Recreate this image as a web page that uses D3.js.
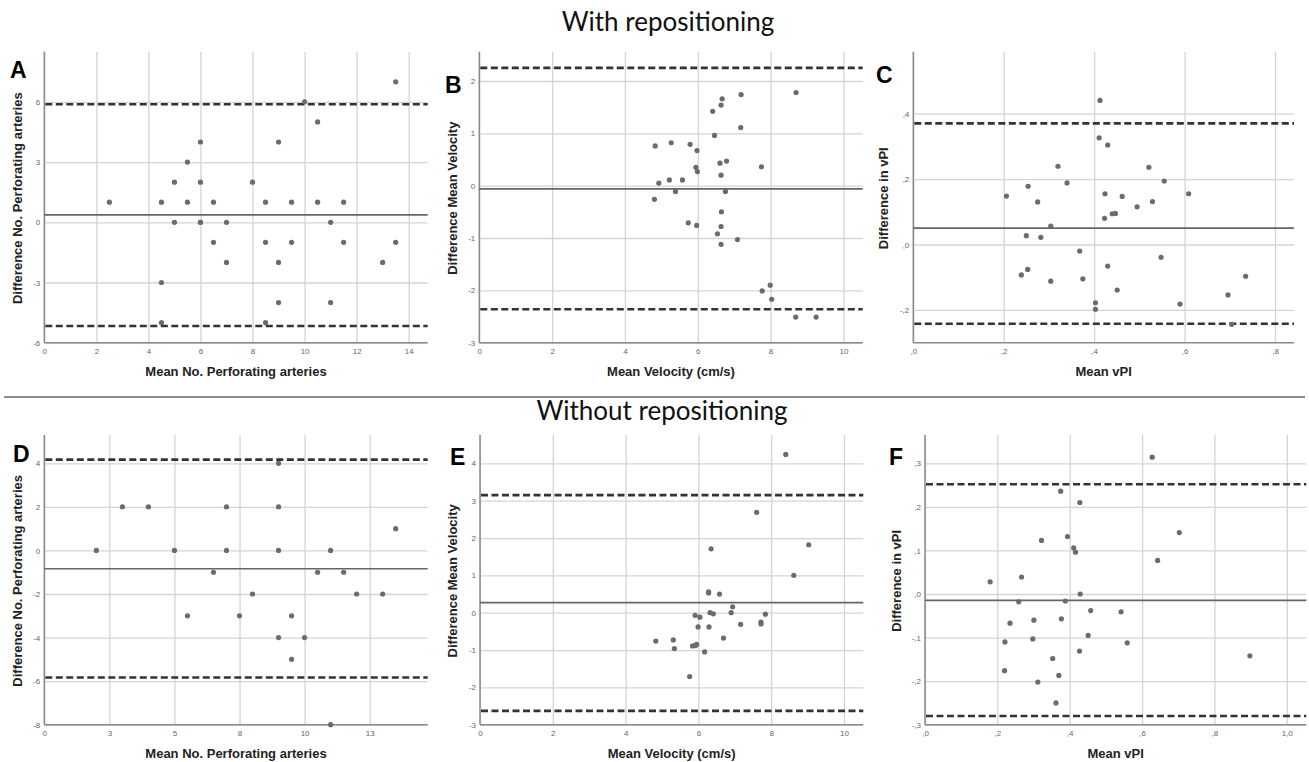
<!DOCTYPE html>
<html>
<head>
<meta charset="utf-8">
<script src="https://cdn.jsdelivr.net/npm/d3@7"></script>
<style>
  html, body { margin: 0; padding: 0; background: #fff; }
  svg { display: block; }
</style>
</head>
<body>
<svg id="chart" width="1309" height="762"></svg>
<script>
// ---------- DATA ----------
const titleTop = "With repositioning";
const titleBottom = "Without repositioning";

// Panel A: With repositioning, No. perforating arteries
const aMean = [2.5,4.5,4.5,4.5,5,5,5.5,5.5,6,6,6,6,6.5,6.5,7,7,8,8.5,8.5,8.5,9,9,9,9.5,9.5,10,10.5,10.5,11,11,11.5,11.5,13,13.5,13.5];
const aDiff = [1,1,-3,-5,2,0,3,1,4,2,0,0,1,-1,0,-2,2,1,-1,-5,4,-2,-4,1,-1,6,5,1,0,-4,1,-1,-2,7,-1];
const aLines = [0.37, 5.88, -5.17]; // bias, upper LoA, lower LoA
const aXTicks = [0,2,4,6,8,10,12,14];
const aXLabels = ["0","2","4","6","8","10","12","14"];
const aYTicks = [-6,-3,0,3,6];
const aYLabels = ["-6","-3","0","3","6"];
const aXDomain = [0, 14.73];
const aYDomain = [-6, 8.5];

// Panel B: With repositioning, mean velocity
const bMean = [4.83,5.27,5.79,5.98,6.41,6.46,6.64,6.67,7.19,7.18,8.70,5.95,5.99,6.61,6.79,7.75,6.64,4.93,5.22,5.58,5.39,6.76,4.81,6.65,5.74,5.97,6.64,6.54,6.64,7.09,7.99,7.77,8.03,8.69,9.25];
const bDiff = [0.76,0.82,0.79,0.67,1.42,0.96,1.54,1.66,1.74,1.11,1.78,0.35,0.27,0.43,0.47,0.36,0.20,0.05,0.11,0.11,-0.11,-0.11,-0.26,-0.50,-0.71,-0.76,-0.78,-0.92,-1.12,-1.03,-1.90,-2.01,-2.17,-2.51,-2.51];
const bLines = [-0.06, 2.25, -2.36];
const bXTicks = [0,2,4,6,8,10];
const bXLabels = ["0","2","4","6","8","10"];
const bYTicks = [-3,-2,-1,0,1,2];
const bYLabels = ["-3","-2","-1","0","1","2"];
const bXDomain = [0, 10.53];
const bYDomain = [-3, 2.56];

// Panel C: With repositioning, vPI
const cMean = [0.413,0.411,0.430,0.320,0.521,0.340,0.555,0.254,0.206,0.424,0.462,0.609,0.275,0.529,0.495,0.440,0.447,0.423,0.304,0.250,0.282,0.368,0.548,0.430,0.253,0.239,0.735,0.375,0.304,0.451,0.696,0.403,0.590,0.403,0.704];
const cDiff = [0.440,0.326,0.304,0.239,0.236,0.188,0.194,0.178,0.148,0.155,0.147,0.155,0.130,0.131,0.115,0.094,0.095,0.080,0.056,0.027,0.022,-0.020,-0.039,-0.066,-0.076,-0.093,-0.097,-0.105,-0.112,-0.139,-0.154,-0.178,-0.182,-0.198,-0.244];
const cLines = [0.050, 0.370, -0.242];
const cXTicks = [0,0.2,0.4,0.6,0.8];
const cXLabels = [",0",",2",",4",",6",",8"];
const cYTicks = [-0.2,0,0.2,0.4];
const cYLabels = ["-,2",",0",",2",",4"];
const cXDomain = [0, 0.842];
const cYDomain = [-0.3, 0.589];

// Panel D: Without repositioning, No. perforating arteries
const dMean = [2,3,4,5,5.5,6.5,7,7,7.5,8,9,9,9,9,9.5,9.5,10,10.5,11,11,11.5,12,13,13.5];
const dDiff = [0,2,2,0,-3,-1,2,0,-3,-2,4,2,0,-4,-3,-5,-4,-1,0,-8,-1,-2,-2,1];
const dLines = [-0.84, 4.17, -5.83];
const dXTicks = [0,2.5,5,7.5,10,12.5];
const dXLabels = ["0","3","5","8","10","13"];
const dYTicks = [-8,-6,-4,-2,0,2,4];
const dYLabels = ["-8","-6","-4","-2","0","2","4"];
const dXDomain = [0, 14.73];
const dYDomain = [-8, 5.3];

// Panel E: Without repositioning, mean velocity
const eMean = [8.40,7.60,9.03,6.35,8.62,6.28,6.28,6.58,6.94,6.90,6.32,6.41,7.84,5.91,6.04,7.72,7.72,7.16,5.99,6.29,6.69,4.83,5.31,5.34,5.84,5.92,5.95,6.17,5.76];
const eDiff = [4.24,2.69,1.82,1.71,1.00,0.56,0.53,0.50,0.16,0.00,0.00,-0.03,-0.04,-0.07,-0.12,-0.25,-0.30,-0.31,-0.38,-0.38,-0.68,-0.76,-0.73,-0.96,-0.89,-0.88,-0.85,-1.05,-1.71];
const eLines = [0.27, 3.15, -2.63];
const eXTicks = [0,2,4,6,8,10];
const eXLabels = ["0","2","4","6","8","10"];
const eYTicks = [-3,-2,-1,0,1,2,3,4];
const eYLabels = ["-3","-2","-1","0","1","2","3","4"];
const eXDomain = [0, 10.53];
const eYDomain = [-3, 4.76];

// Panel F: Without repositioning, vPI
const fMean = [0.628,0.375,0.428,0.703,0.394,0.322,0.411,0.416,0.643,0.267,0.180,0.429,0.259,0.388,0.458,0.542,0.377,0.301,0.235,0.451,0.298,0.221,0.559,0.427,0.353,0.898,0.220,0.370,0.312,0.362];
const fDiff = [0.314,0.236,0.210,0.141,0.132,0.123,0.106,0.096,0.077,0.039,0.028,0.000,-0.018,-0.016,-0.038,-0.041,-0.057,-0.060,-0.067,-0.095,-0.103,-0.110,-0.112,-0.131,-0.148,-0.142,-0.176,-0.187,-0.202,-0.250];
const fLines = [-0.0145, 0.252, -0.280];
const fXTicks = [0,0.2,0.4,0.6,0.8,1.0];
const fXLabels = [",0",",2",",4",",6",",8","1,0"];
const fYTicks = [-0.3,-0.2,-0.1,0,0.1,0.2,0.3];
const fYLabels = ["-,3","-,2","-,1",",0",",1",",2",",3"];
const fXDomain = [0, 1.054];
const fYDomain = [-0.3, 0.365];

const panelLetters = ["A","B","C","D","E","F"];
const xTitles = ["Mean No. Perforating arteries","Mean Velocity (cm/s)","Mean vPI","Mean No. Perforating arteries","Mean Velocity (cm/s)","Mean vPI"];
const yTitles = ["Difference No. Perforating arteries","Difference Mean Velocity","Difference in vPI","Difference No. Perforating arteries","Difference Mean Velocity","Difference in vPI"];

// ---------- LAYOUT ----------
const panels = [
  {x: aMean, y: aDiff, lines: aLines, xt: aXTicks, xl: aXLabels, yt: aYTicks, yl: aYLabels, xd: aXDomain, yd: aYDomain,
   box: {l: 44.3, r: 427.7, t: 51.7, b: 342.7}, letter: {x: 10, y: 78}, ytx: 22},
  {x: bMean, y: bDiff, lines: bLines, xt: bXTicks, xl: bXLabels, yt: bYTicks, yl: bYLabels, xd: bXDomain, yd: bYDomain,
   box: {l: 479.3, r: 862.7, t: 51.7, b: 342.7}, letter: {x: 445, y: 93}, ytx: 457},
  {x: cMean, y: cDiff, lines: cLines, xt: cXTicks, xl: cXLabels, yt: cYTicks, yl: cYLabels, xd: cXDomain, yd: cYDomain,
   box: {l: 913.3, r: 1294, t: 51.7, b: 342.7}, letter: {x: 876, y: 83}, ytx: 888},
  {x: dMean, y: dDiff, lines: dLines, xt: dXTicks, xl: dXLabels, yt: dYTicks, yl: dYLabels, xd: dXDomain, yd: dYDomain,
   box: {l: 44.3, r: 427.7, t: 435, b: 724.7}, letter: {x: 13, y: 462}, ytx: 22},
  {x: eMean, y: eDiff, lines: eLines, xt: eXTicks, xl: eXLabels, yt: eYTicks, yl: eYLabels, xd: eXDomain, yd: eYDomain,
   box: {l: 480, r: 863.3, t: 435, b: 724.7}, letter: {x: 450, y: 465}, ytx: 457},
  {x: fMean, y: fDiff, lines: fLines, xt: fXTicks, xl: fXLabels, yt: fYTicks, yl: fYLabels, xd: fXDomain, yd: fYDomain,
   box: {l: 925, r: 1306.3, t: 435, b: 724.7}, letter: {x: 889, y: 465}, ytx: 901}
];

const svg = d3.select("#chart");

// Titles
svg.append("text").attr("x", 668).attr("y", 31).attr("text-anchor", "middle")
  .style("font-family", "Lato, 'Open Sans', sans-serif").style("font-size", "26px").style("fill", "#111")
  .text(titleTop);
svg.append("text").attr("x", 662).attr("y", 420).attr("text-anchor", "middle")
  .style("font-family", "Lato, 'Open Sans', sans-serif").style("font-size", "26px").style("fill", "#111")
  .text(titleBottom);
// Separator
svg.append("line").attr("x1", 4).attr("x2", 1305).attr("y1", 397).attr("y2", 397)
  .style("stroke", "#666").style("stroke-width", 1.5);

panels.forEach((p, i) => {
  const xs = d3.scaleLinear().domain(p.xd).range([p.box.l, p.box.r]);
  const ys = d3.scaleLinear().domain(p.yd).range([p.box.b, p.box.t]);
  const g = svg.append("g");

  // gridlines via axes
  const gx = g.append("g").attr("transform", `translate(0,${p.box.b})`)
    .call(d3.axisBottom(xs).tickValues(p.xt).tickSize(-(p.box.b - p.box.t)).tickFormat((d, k) => p.xl[k]));
  gx.select(".domain").remove();
  gx.selectAll(".tick line").style("stroke", "#d4d4d4").style("stroke-width", 1.3);
  gx.selectAll(".tick text").attr("y", 5.5).style("font-family", "'Liberation Sans', Arial, sans-serif")
    .style("font-size", "8px").style("fill", "#666");

  const gy = g.append("g").attr("transform", `translate(${p.box.l},0)`)
    .call(d3.axisLeft(ys).tickValues(p.yt).tickSize(-(p.box.r - p.box.l)).tickFormat((d, k) => p.yl[k]));
  gy.select(".domain").remove();
  gy.selectAll(".tick line").style("stroke", "#d4d4d4").style("stroke-width", 1.3);
  gy.selectAll(".tick text").attr("x", -4).style("font-family", "'Liberation Sans', Arial, sans-serif")
    .style("font-size", "8px").style("fill", "#666");

  // axis lines
  g.append("line").attr("x1", p.box.l).attr("x2", p.box.l).attr("y1", p.box.t).attr("y2", p.box.b)
    .style("stroke", "#8a8a8a").style("stroke-width", 1.5);
  g.append("line").attr("x1", p.box.l).attr("x2", p.box.r).attr("y1", p.box.b).attr("y2", p.box.b)
    .style("stroke", "#8a8a8a").style("stroke-width", 1.5);

  // bias line
  g.append("line").attr("x1", p.box.l).attr("x2", p.box.r)
    .attr("y1", ys(p.lines[0])).attr("y2", ys(p.lines[0]))
    .style("stroke", "#666").style("stroke-width", 1.6);
  // limits of agreement
  [p.lines[1], p.lines[2]].forEach(v => {
    g.append("line").attr("x1", p.box.l + 1).attr("x2", p.box.r)
      .attr("y1", ys(v)).attr("y2", ys(v))
      .style("stroke", "#333").style("stroke-width", 2.6).style("stroke-dasharray", "7,3.5");
  });

  // points
  g.selectAll("circle").data(p.x.map((v, k) => [v, p.y[k]])).enter().append("circle")
    .attr("cx", d => xs(d[0])).attr("cy", d => ys(d[1])).attr("r", 2.6)
    .style("fill", "#6b6b6b");

  // axis titles
  g.append("text").attr("x", (p.box.l + p.box.r) / 2).attr("y", p.box.b + 33)
    .attr("text-anchor", "middle")
    .style("font-family", "'Liberation Sans', Arial, sans-serif").style("font-weight", "bold")
    .style("font-size", "13px").style("fill", "#222").text(xTitles[i]);
  g.append("text").attr("transform", `translate(${p.ytx},${(p.box.t + p.box.b) / 2 + 1}) rotate(-90)`)
    .attr("text-anchor", "middle")
    .style("font-family", "'Liberation Sans', Arial, sans-serif").style("font-weight", "bold")
    .style("font-size", "13px").style("fill", "#222").text(yTitles[i]);

  // panel letter
  g.append("text").attr("x", p.letter.x).attr("y", p.letter.y)
    .style("font-family", "'Liberation Sans', Arial, sans-serif").style("font-weight", "bold")
    .style("font-size", "23px").style("fill", "#000").text(panelLetters[i]);
});
</script>
</body>
</html>
